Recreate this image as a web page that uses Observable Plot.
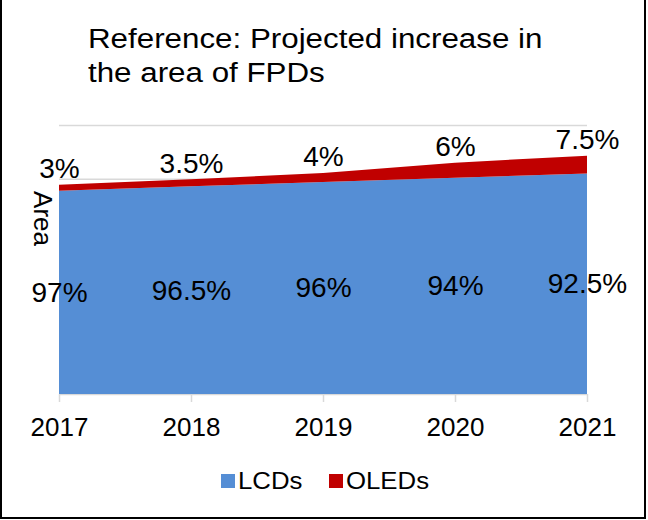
<!DOCTYPE html>
<html>
<head>
<meta charset="utf-8">
<script src="https://cdn.jsdelivr.net/npm/d3@7"></script>
<script src="https://cdn.jsdelivr.net/npm/@observablehq/plot@0.6"></script>
<style>
  html, body { margin: 0; padding: 0; background: #fff; }
  body { position: relative; width: 648px; height: 520px; overflow: hidden; font-family: "Liberation Sans", Arial, sans-serif; }
  #title { position: absolute; left: 88px; top: 22px; font-size: 27px; line-height: 34px; color: #000; transform: scaleX(1.16); transform-origin: 0 0; white-space: nowrap; }
  #chart { position: absolute; left: 0; top: 0; }
  #legend { position: absolute; left: 0; top: 467px; width: 648px; height: 28px; font-size: 23px; line-height: 28px; color: #000; }
  #legend .sw { position: absolute; top: 7px; width: 14px; height: 14px; }
  #legend .txt { position: absolute; top: 0; display: inline-block; transform: scaleX(1.12); transform-origin: 0 50%; white-space: nowrap; }
  #frame { position: absolute; left: 0; top: 0; width: 646px; height: 519px; box-sizing: border-box; border-left: 2px solid #000; border-right: 2px solid #000; border-bottom: 2px solid #000; pointer-events: none; }
</style>
</head>
<body>
<div id="title">Reference: Projected increase in<br>the area of FPDs</div>
<div id="chart"></div>
<div id="legend"></div>
<div id="frame"></div>
<script>
const years = [2017, 2018, 2019, 2020, 2021];
const seriesNames = ["LCDs", "OLEDs"];
const seriesColors = ["#558ed5", "#c00000"];
const lcdArea = [189, 193, 197, 201, 205];
const oledArea = [5.5, 6.5, 8.5, 14, 16.5];
const lcdShare = ["97%", "96.5%", "96%", "94%", "92.5%"];
const oledShare = ["3%", "3.5%", "4%", "6%", "7.5%"];
const yGridValues = [0, 50, 100, 150, 200, 250];
const yLabel = "Area";

const rows = [];
years.forEach((yr, i) => {
  rows.push({year: yr, series: seriesNames[0], value: lcdArea[i]});
  rows.push({year: yr, series: seriesNames[1], value: oledArea[i]});
});
const labelRows = years.map((yr, i) => ({
  year: yr, lcd: lcdArea[i], total: lcdArea[i] + oledArea[i],
  lcdText: lcdShare[i], oledText: oledShare[i]
}));

const plot = Plot.plot({
  width: 648,
  height: 470,
  marginTop: 125,
  marginBottom: 76,
  marginLeft: 59,
  marginRight: 61,
  style: {fontFamily: "'Liberation Sans', Arial, sans-serif", background: "transparent", color: "#000"},
  x: {domain: [2017, 2021]},
  y: {domain: [0, 250], axis: null},
  color: {domain: seriesNames, range: seriesColors},
  marks: [
    Plot.gridY(yGridValues, {stroke: "#d9d9d9", strokeOpacity: 1, strokeWidth: 1.5}),
    Plot.areaY(rows, {x: "year", y: "value", fill: "series", order: seriesNames, curve: "linear"}),
    Plot.axisX(years, {tickSize: 8, tickPadding: 15.5, tickFormat: d => String(d), stroke: "#d9d9d9", strokeWidth: 1.5, fill: "#000", fontSize: 26, label: null}),
    Plot.text(labelRows, {x: "year", y: d => d.lcd / 2, text: "lcdText", fontSize: 28, fill: "#000"}),
    Plot.text(labelRows, {x: "year", y: "total", dy: -16, text: "oledText", fontSize: 28, fill: "#000"}),
    Plot.text([yLabel], {frameAnchor: "left", textAnchor: "middle", lineAnchor: "middle", rotate: 90, dx: -17, dy: -41.5, fontSize: 26, fill: "#000"})
  ]
});
document.getElementById("chart").appendChild(plot);

const legend = document.getElementById("legend");
const swatchLeft = [221, 329];
seriesNames.forEach((name, i) => {
  const sw = document.createElement("span");
  sw.className = "sw";
  sw.style.left = swatchLeft[i] + "px";
  sw.style.background = seriesColors[i];
  legend.appendChild(sw);
  const tx = document.createElement("span");
  tx.className = "txt";
  tx.style.left = (swatchLeft[i] + 17) + "px";
  tx.textContent = name;
  legend.appendChild(tx);
});
</script>
</body>
</html>
